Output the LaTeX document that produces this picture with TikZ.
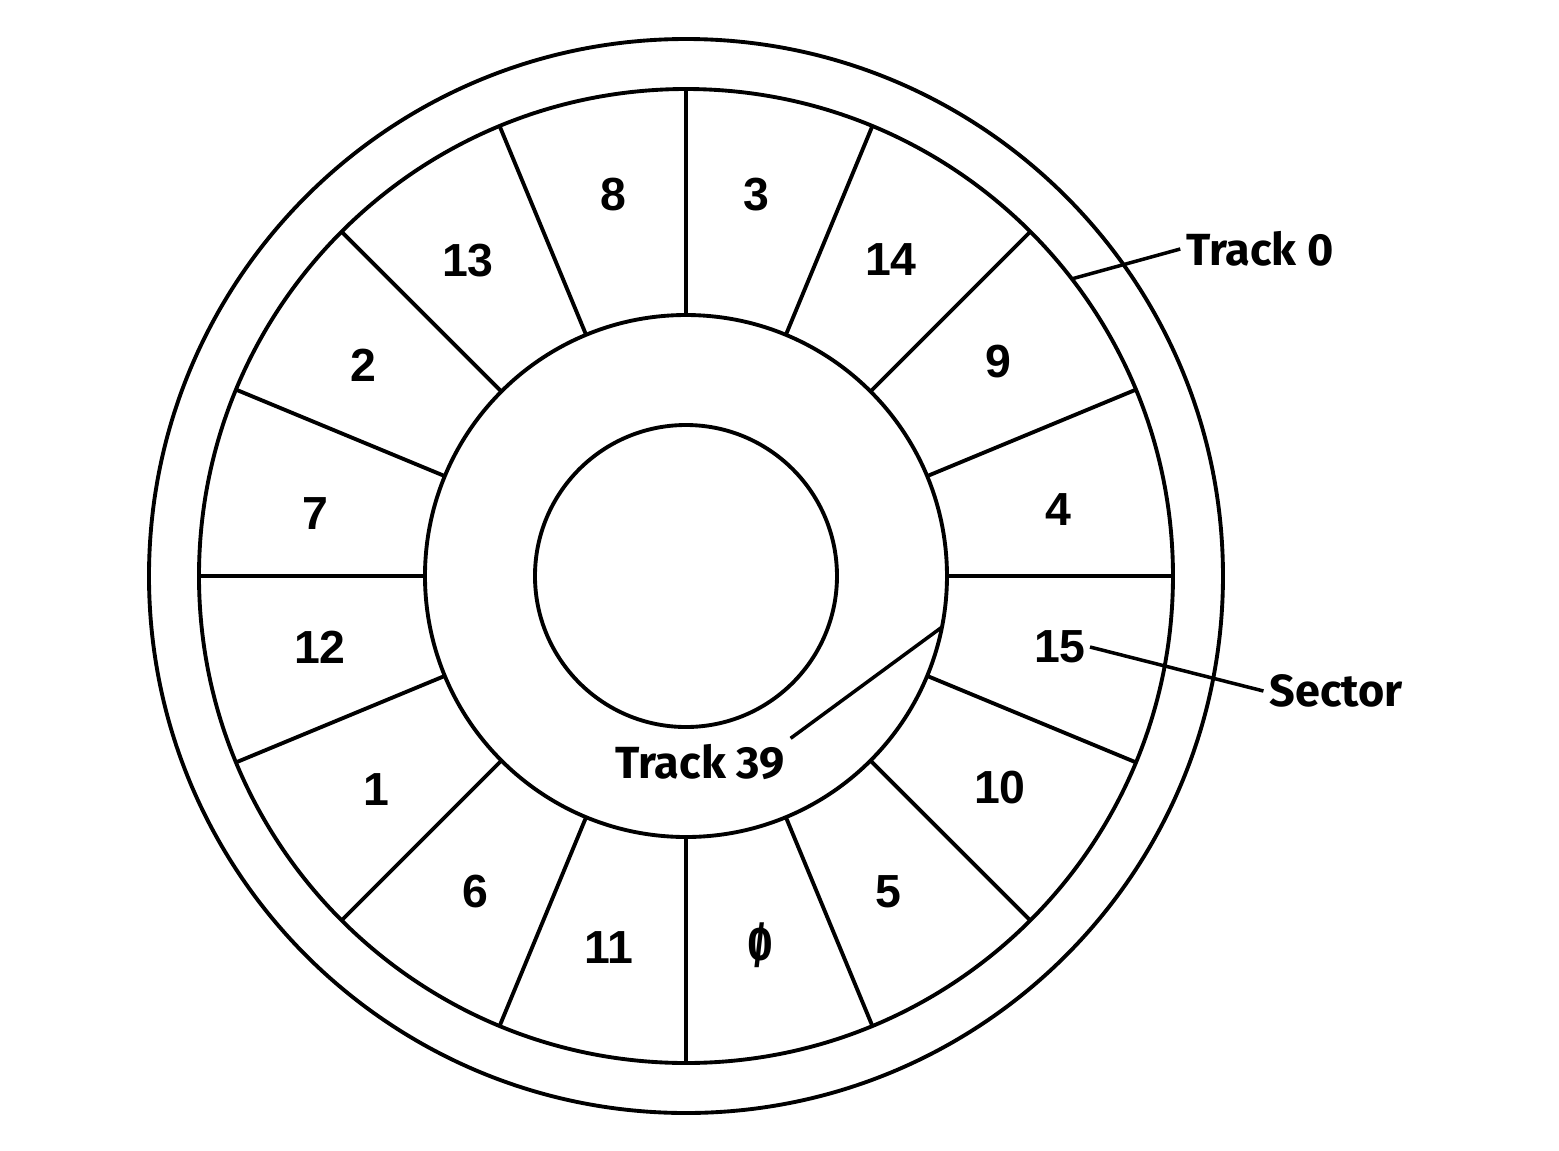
\documentclass[tikz,border=0pt]{standalone}
\usepackage{fontspec}
\usepackage{graphicx}
\setmainfont{Liberation Sans}
\newfontfamily\labfont{Fira Sans}
\definecolor{dkink}{RGB}{0,0,0}
\tikzset{
  ring/.style={draw=dkink, line width=1.1pt},
  num/.style={font=\bfseries\fontsize{13.2}{15}\selectfont, inner sep=1pt},
  lab/.style={font=\labfont\bfseries\fontsize{12.8}{15}\selectfont, inner sep=1.5pt},
  lead/.style={draw=dkink, line width=1pt}
}
\newcommand{\slzero}{\ooalign{0\cr\hidewidth\raisebox{-0.13em}{\scalebox{0.8}[1.3]{/}}\hidewidth\cr}}
\begin{document}
\begin{tikzpicture}[x=0.01cm, y=0.01cm]
  \useasboundingbox (-686,-574) rectangle (873,576);
  % disk outline and tracks
  \draw[ring] (0,0) circle[radius=537];
  \draw[ring] (0,0) circle[radius=487];
  \draw[ring] (0,0) circle[radius=261];
  \draw[ring] (0,0) circle[radius=151];
  \foreach \a in {0,22.5,...,337.5}
    \draw[ring] (\a:261) -- (\a:487);
  % sector numbers
  \node[num] (s3)  at (70,381)    {3};
  \node[num] (s14) at (205,316)   {14};
  \node[num] (s9)  at (312,214)   {9};
  \node[num] (s4)  at (372,66)    {4};
  \node[num] (s15) at (374,-71)   {15};
  \node[num] (s10) at (314,-212)  {10};
  \node[num] (s5)  at (202,-316)  {5};
  \node[num] (s0)  at (74,-372)   {\slzero};
  \node[num] (s11) at (-77,-372)  {11};
  \node[num] (s6)  at (-211,-316) {6};
  \node[num] (s1)  at (-310,-214) {1};
  \node[num] (s12) at (-366,-71)  {12};
  \node[num] (s7)  at (-371,62)   {7};
  \node[num] (s2)  at (-323,211)  {2};
  \node[num] (s13) at (-218,315)  {13};
  \node[num] (s8)  at (-73,381)   {8};
  % labels
  \node[lab] (tk0)  at (574,327)  {Track 0};
  \node[lab] (sec)  at (650,-115) {Sector};
  \node[lab] (tk39) at (14,-186)  {Track 39};
  \coordinate (tk0end)  at (37.6:487);
  \coordinate (tk39end) at (-11.3:261);
  \draw[lead] (tk0end) -- (tk0.west);
  \draw[lead] (s15.east) -- (sec.west);
  \draw[lead] (tk39.north east) -- (tk39end);
\end{tikzpicture}
\end{document}
